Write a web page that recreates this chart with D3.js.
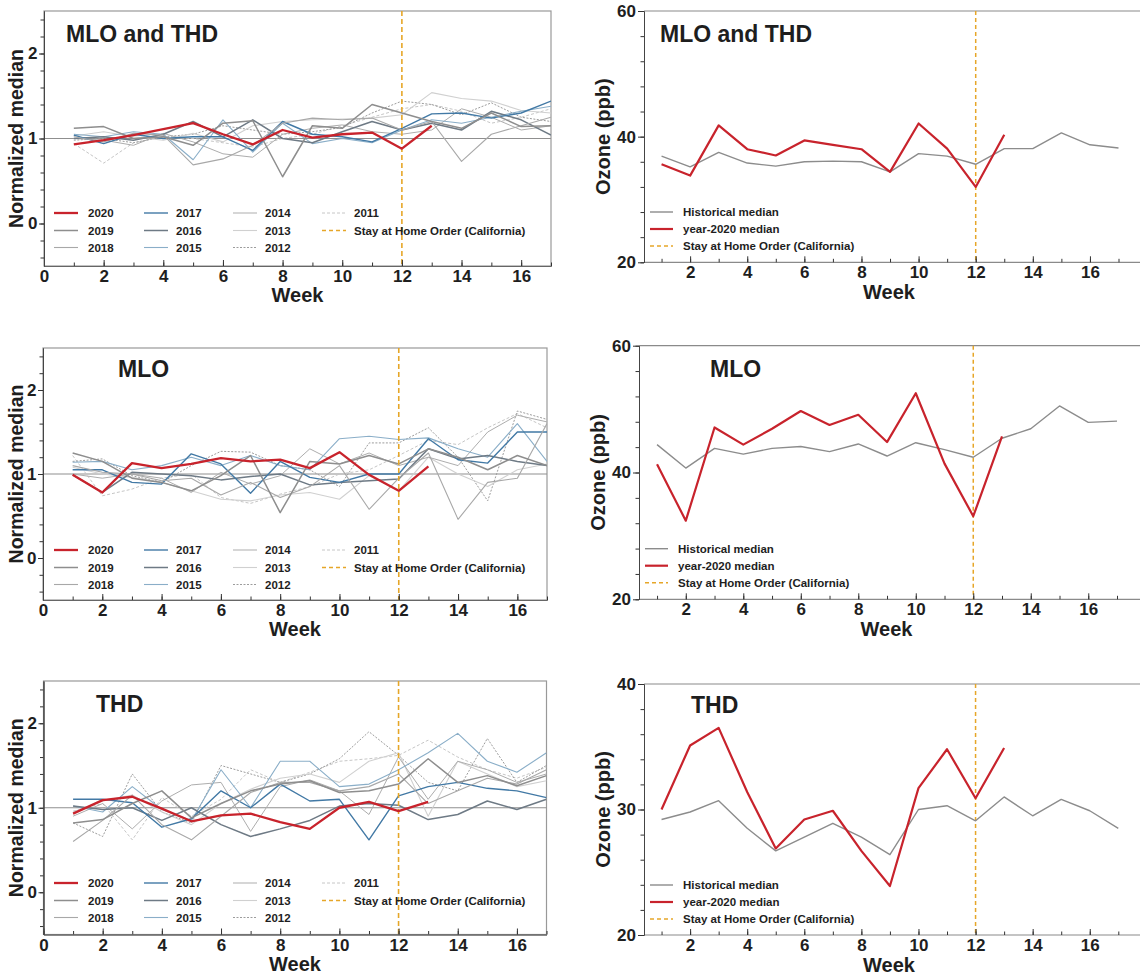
<!DOCTYPE html>
<html><head><meta charset="utf-8">
<script src="https://cdn.jsdelivr.net/npm/d3@7"></script>
<style>
body{margin:0;background:#fff}
text{font-family:"Liberation Sans",Arial,sans-serif;fill:#1e1e1e}
</style>
</head><body>
<svg id="c" width="1140" height="977"></svg>
<script>
// ---------------- DATA ----------------
const weeks = d3.range(1, 18);
const years = ["2020","2019","2018","2017","2016","2015","2014","2013","2012","2011"];
const stayWeek = 12;

// Normalized weekly medians (rows follow `years`; 2020 has 13 weeks)
const normBoth = [
  [0.93,0.98,1.04,1.11,1.18,1.05,0.93,1.10,1.01,1.05,1.07,0.88,1.15],
  [1.12,1.14,1.00,1.02,0.92,1.18,1.21,0.55,1.15,1.12,1.40,1.30,1.20,1.12,1.30,1.14,1.15],
  [1.02,0.96,1.06,1.04,0.69,0.76,0.92,1.18,1.24,1.22,1.24,1.10,1.20,0.73,1.05,1.15,1.25],
  [1.04,0.94,1.05,1.00,1.02,1.02,0.86,1.20,1.05,1.02,0.96,1.12,1.29,1.30,1.24,1.30,1.44],
  [1.00,1.02,0.98,1.05,1.20,1.02,1.22,1.00,0.95,1.08,1.20,1.10,1.18,1.10,1.32,1.22,1.04],
  [1.05,1.02,1.08,1.05,0.75,1.22,0.84,1.18,0.94,1.00,0.95,1.10,1.22,1.18,1.25,1.32,1.38],
  [1.00,0.98,0.92,1.06,0.96,0.82,0.78,1.05,1.12,1.16,1.08,1.05,1.10,1.35,1.25,1.10,1.15],
  [1.03,1.08,1.02,0.98,1.06,0.96,1.15,1.20,1.22,1.23,1.24,1.28,1.54,1.47,1.44,1.33,1.30],
  [0.98,1.00,0.95,1.02,1.05,1.15,1.10,1.05,1.08,1.13,1.30,1.44,1.40,1.28,1.42,1.25,1.20],
  [0.94,0.71,0.95,1.02,1.00,0.95,0.90,1.00,1.05,1.15,1.25,1.35,1.40,1.32,1.18,1.25,1.35]
];
const normMLO = [
  [0.99,0.78,1.13,1.07,1.12,1.19,1.15,1.17,1.07,1.26,0.99,0.80,1.09],
  [1.25,1.15,0.95,0.90,0.80,0.98,1.22,0.54,1.15,1.12,1.22,1.12,1.30,1.20,1.05,1.22,1.10],
  [1.10,1.02,1.00,0.92,0.95,0.75,0.90,0.72,0.85,1.10,0.58,0.95,1.25,0.46,0.90,0.95,1.60],
  [1.05,1.05,0.90,0.88,1.24,1.12,0.77,1.15,0.96,0.90,1.00,1.00,1.42,1.17,1.13,1.50,1.50],
  [0.99,0.78,1.02,1.00,0.98,0.93,0.97,1.00,0.87,0.90,0.92,0.94,1.30,1.18,1.22,1.15,1.10],
  [1.14,1.15,1.05,1.10,1.20,1.10,1.22,1.10,1.05,1.42,1.45,1.41,1.43,1.30,1.20,1.60,1.15],
  [1.00,0.95,1.00,0.95,0.78,1.02,0.88,0.98,1.30,1.12,1.25,1.10,1.20,1.10,1.50,1.70,1.62],
  [1.08,1.00,0.96,0.90,0.80,0.70,0.68,0.75,0.78,0.70,0.98,0.80,1.20,1.00,0.85,1.05,1.12],
  [1.15,1.18,0.98,0.90,1.10,1.27,1.26,1.10,1.05,0.85,1.37,1.37,1.55,1.20,0.68,1.75,1.65],
  [1.22,0.74,0.82,0.95,1.00,0.72,0.65,0.76,0.85,1.00,1.05,1.22,1.40,1.35,1.55,1.72,1.55]
];
const normTHD = [
  [0.93,1.09,1.13,0.99,0.84,0.91,0.93,0.83,0.75,1.00,1.07,0.96,1.07],
  [0.82,0.86,1.05,1.20,0.88,1.05,1.20,1.28,1.32,1.18,1.20,1.28,1.58,1.30,1.38,1.26,1.38],
  [0.60,0.85,1.15,0.80,0.62,0.90,1.18,1.30,1.30,1.20,1.25,1.40,1.05,1.20,1.35,1.28,1.45],
  [1.10,1.10,1.06,0.77,0.87,1.20,1.00,1.28,1.08,1.10,0.62,1.14,1.25,1.30,1.23,1.20,1.12],
  [1.02,0.98,1.00,0.85,1.00,0.80,0.66,0.75,0.85,1.02,1.05,1.03,0.86,0.92,1.08,0.98,1.10],
  [1.02,0.95,1.25,0.98,0.85,1.45,1.00,1.55,1.55,1.25,1.28,1.45,1.65,1.88,1.55,1.42,1.65],
  [0.90,1.05,0.75,1.08,1.27,1.30,0.72,1.25,1.33,1.20,0.92,1.60,1.10,1.55,1.45,1.30,1.40],
  [0.95,1.08,1.15,0.95,0.80,1.05,1.22,1.35,1.40,1.30,1.55,1.65,0.90,1.55,1.40,1.25,1.32],
  [0.82,0.66,1.40,0.95,0.82,1.50,1.40,1.30,1.40,1.58,1.90,1.62,1.30,1.20,1.82,1.30,1.50],
  [0.96,1.05,0.62,1.12,0.90,1.10,1.45,1.30,1.42,1.55,1.58,1.62,1.80,1.60,1.45,1.35,1.48]
];

// Ozone (ppb) weekly medians
const histBoth  = [36.9,35.2,37.5,35.8,35.3,36.0,36.1,36.0,34.4,37.3,36.9,35.6,38.1,38.1,40.6,38.7,38.2];
const y2020Both = [35.6,33.8,41.8,38.0,37.0,39.4,38.7,38.0,34.4,42.1,38.1,32.0,40.3];
const histMLO   = [44.4,40.7,43.8,42.9,43.8,44.1,43.3,44.5,42.6,44.7,43.6,42.4,45.4,46.9,50.5,47.9,48.1];
const y2020MLO  = [41.3,32.4,47.1,44.4,46.9,49.7,47.5,49.1,44.8,52.5,41.4,33.1,45.7];
const histTHD   = [29.2,29.8,30.7,28.5,26.7,27.8,28.9,27.8,26.4,30.0,30.3,29.1,31.0,29.5,30.8,29.9,28.5];
const y2020THD  = [30.0,35.1,36.5,31.4,26.9,29.2,29.9,26.7,23.9,31.7,34.8,30.9,34.9];

const normTicks = [0, 1, 2];
const normMinor = [-0.4,-0.2,0,0.2,0.4,0.6,0.8,1,1.2,1.4,1.6,1.8,2,2.2,2.4];
const weekTicksL = [0,2,4,6,8,10,12,14,16];
const weekTicksR = [2,4,6,8,10,12,14,16];
const weekMinor = d3.range(0, 18);
const ozoneTicks60 = [20, 40, 60];
const ozoneMinor60 = [20,24,28,32,36,40,44,48,52,56,60];
const ozoneTicks40 = [20, 30, 40];
const ozoneMinor40 = [20,22,24,26,28,30,32,34,36,38,40];

// ---------------- STYLE ----------------
const yearStyle = {
  "2020": {c:"#c8232c", w:2.3, d:null},
  "2019": {c:"#8e8e8e", w:1.5, d:null},
  "2018": {c:"#a8a8a8", w:1.1, d:null},
  "2017": {c:"#4279a5", w:1.4, d:null},
  "2016": {c:"#6e7a85", w:1.5, d:null},
  "2015": {c:"#8aaec8", w:1.1, d:null},
  "2014": {c:"#adadad", w:1.0, d:null},
  "2013": {c:"#d0d0d0", w:1.1, d:null},
  "2012": {c:"#9c9c9c", w:1.0, d:"2,1.5"},
  "2011": {c:"#c6c6c6", w:1.0, d:"3,2"}
};
const stayColor = "#e6a628";
const fmtInt = d3.format("d");
const svg = d3.select("#c");

function styleAxis(g, col){
  g.selectAll("path").attr("stroke", col);
  g.selectAll("line").attr("stroke", "#333");
  g.selectAll("text").attr("font-size", 17).attr("font-weight", "bold")
   .attr("font-family", '"Liberation Sans",Arial,sans-serif').attr("fill", "#1e1e1e");
}

function drawLeft(cfg){
  const x = d3.scaleLinear().domain([0,17]).range([cfg.x0, cfg.x1]);
  const y = d3.scaleLinear().domain([-0.5,2.5]).range([cfg.yb, cfg.yt]);
  const g = svg.append("g");
  g.append("rect").attr("x", cfg.x0).attr("y", cfg.yt).attr("width", cfg.x1-cfg.x0)
    .attr("height", cfg.yb-cfg.yt).attr("fill","none").attr("stroke","#999").attr("stroke-width",1.2);
  g.append("line").attr("x1", cfg.x0).attr("x2", cfg.x1).attr("y1", y(1)).attr("y2", y(1))
    .attr("stroke","#8f8f8f").attr("stroke-width",1.1);
  const line = d3.line().x((d,i)=>x(weeks[i])).y(d=>y(d));
  const clip = "clipL" + cfg.id;
  svg.append("clipPath").attr("id", clip).append("rect")
    .attr("x", cfg.x0).attr("y", cfg.yt).attr("width", cfg.x1-cfg.x0).attr("height", cfg.yb-cfg.yt);
  const lg = g.append("g").attr("clip-path", `url(#${clip})`);
  for (let k = years.length-1; k >= 1; k--) {
    const s = yearStyle[years[k]];
    lg.append("path").attr("d", line(cfg.data[k])).attr("fill","none")
      .attr("stroke", s.c).attr("stroke-width", s.w).attr("stroke-dasharray", s.d)
      .attr("stroke-linejoin","round");
  }
  lg.append("line").attr("x1", x(stayWeek)).attr("x2", x(stayWeek)).attr("y1", cfg.yt).attr("y2", cfg.yb)
    .attr("stroke", stayColor).attr("stroke-width",1.6).attr("stroke-dasharray","5,3");
  const s0 = yearStyle["2020"];
  lg.append("path").attr("d", line(cfg.data[0])).attr("fill","none")
    .attr("stroke", s0.c).attr("stroke-width", s0.w).attr("stroke-linejoin","round");

  g.append("g").attr("transform",`translate(0,${cfg.yb})`)
    .call(d3.axisBottom(x).tickValues(weekMinor).tickSize(-3.5).tickSizeOuter(0).tickFormat(""))
    .call(a=>styleAxis(a,"#666"));
  g.append("g").attr("transform",`translate(0,${cfg.yb})`)
    .call(d3.axisBottom(x).tickValues(weekTicksL).tickSize(-6).tickSizeOuter(0).tickPadding(4).tickFormat(fmtInt))
    .call(a=>styleAxis(a,"#666"));
  g.append("g").attr("transform",`translate(${cfg.x0},0)`)
    .call(d3.axisLeft(y).tickValues(normMinor).tickSize(3.5).tickSizeOuter(0).tickFormat(""))
    .call(a=>styleAxis(a,"#444"));
  g.append("g").attr("transform",`translate(${cfg.x0},0)`)
    .call(d3.axisLeft(y).tickValues(normTicks).tickSize(5).tickSizeOuter(0).tickPadding(1.5).tickFormat(fmtInt))
    .call(a=>styleAxis(a,"#444"));

  g.append("text").attr("x", (cfg.x0+cfg.x1)/2).attr("y", cfg.yb+36).attr("text-anchor","middle")
    .attr("font-size",20).attr("font-weight","bold").text("Week");
  g.append("text").attr("transform",`translate(23,${(cfg.yt+cfg.yb)/2}) rotate(-90)`)
    .attr("text-anchor","middle").attr("font-size",19.5).attr("font-weight","bold").text("Normalized median");
  g.append("text").attr("x", cfg.tx).attr("y", cfg.ty).attr("font-size",23).attr("font-weight","bold")
    .text(cfg.title);

  const cols = [[54,88],[144,176],[233,265],[322,354]];
  const rows = [cfg.yt+202, cfg.yt+219.5, cfg.yt+236.5];
  const items = years.map(yr=>({label:yr, s:yearStyle[yr]}))
    .concat([{label:"Stay at Home Order (California)", s:{c:stayColor,w:1.6,d:"4,3"}}]);
  items.forEach((it,i)=>{
    const c = cols[Math.floor(i/3)], r = rows[i%3];
    g.append("line").attr("x1", c[0]).attr("x2", c[0]+24).attr("y1", r).attr("y2", r)
      .attr("stroke", it.s.c).attr("stroke-width", it.s.w).attr("stroke-dasharray", it.s.d);
    g.append("text").attr("x", c[1]).attr("y", r+4).attr("font-size",11.5).attr("font-weight","bold")
      .attr("fill","#333").text(it.label);
  });
}

function drawRight(cfg){
  const x = d3.scaleLinear().domain([0,17]).range([cfg.x0, cfg.x17]);
  const y = d3.scaleLinear().domain(cfg.dom).range([cfg.yb, cfg.yt]);
  const g = svg.append("g");
  g.append("line").attr("x1", cfg.ax).attr("x2", 1140).attr("y1", cfg.yt).attr("y2", cfg.yt)
    .attr("stroke","#8a8a8a").attr("stroke-width",1.2);
  g.append("line").attr("x1", cfg.ax).attr("x2", 1140).attr("y1", cfg.yb).attr("y2", cfg.yb)
    .attr("stroke","#8a8a8a").attr("stroke-width",1.2);
  g.append("line").attr("x1", x(stayWeek)).attr("x2", x(stayWeek)).attr("y1", cfg.yt).attr("y2", cfg.yb)
    .attr("stroke", stayColor).attr("stroke-width",1.5).attr("stroke-dasharray","4,3");
  const line = d3.line().x((d,i)=>x(weeks[i])).y(d=>y(d));
  g.append("path").attr("d", line(cfg.hist)).attr("fill","none").attr("stroke","#8c8c8c")
    .attr("stroke-width",1.4).attr("stroke-linejoin","round");
  g.append("path").attr("d", line(cfg.cur)).attr("fill","none").attr("stroke","#c8232c")
    .attr("stroke-width",2.2).attr("stroke-linejoin","round");

  const xa1 = g.append("g").attr("transform",`translate(0,${cfg.yb})`)
    .call(d3.axisBottom(x).tickValues(weekMinor.filter(v=>v>=1)).tickSize(-3.5).tickFormat(""))
    .call(a=>styleAxis(a,"#8a8a8a"));
  xa1.select(".domain").remove();
  const xa2 = g.append("g").attr("transform",`translate(0,${cfg.yb})`)
    .call(d3.axisBottom(x).tickValues(weekTicksR).tickSize(-6).tickPadding(3.5).tickFormat(fmtInt))
    .call(a=>styleAxis(a,"#8a8a8a"));
  xa2.select(".domain").remove();
  g.append("g").attr("transform",`translate(${cfg.ax},0)`)
    .call(d3.axisLeft(y).tickValues(cfg.minor).tickSize(3.5).tickSizeOuter(0).tickFormat(""))
    .call(a=>styleAxis(a,"#444"));
  g.append("g").attr("transform",`translate(${cfg.ax},0)`)
    .call(d3.axisLeft(y).tickValues(cfg.major).tickSize(6).tickSizeOuter(0).tickPadding(2).tickFormat(fmtInt))
    .call(a=>styleAxis(a,"#444"));

  g.append("text").attr("x", (cfg.ax+1140)/2 - 3).attr("y", cfg.yb+37).attr("text-anchor","middle")
    .attr("font-size",20).attr("font-weight","bold").text("Week");
  g.append("text").attr("transform",`translate(${cfg.lx},${(cfg.yt+cfg.yb)/2}) rotate(-90)`)
    .attr("text-anchor","middle").attr("font-size",20).attr("font-weight","bold").text("Ozone (ppb)");
  g.append("text").attr("x", cfg.tx).attr("y", cfg.ty).attr("font-size",23).attr("font-weight","bold")
    .text(cfg.title);

  const items = [
    {label:"Historical median", c:"#8c8c8c", w:1.4, d:null},
    {label:"year-2020 median", c:"#c8232c", w:2.2, d:null},
    {label:"Stay at Home Order (California)", c:stayColor, w:1.5, d:"4,3"}
  ];
  items.forEach((it,i)=>{
    const r = cfg.yt + cfg.lg + i*17;
    g.append("line").attr("x1", cfg.ax+6).attr("x2", cfg.ax+29).attr("y1", r).attr("y2", r)
      .attr("stroke", it.c).attr("stroke-width", it.w).attr("stroke-dasharray", it.d);
    g.append("text").attr("x", cfg.ax+39).attr("y", r+4).attr("font-size",11.5).attr("font-weight","bold")
      .attr("fill","#333").text(it.label);
  });
}

drawLeft({id:1, x0:44, x1:551, yt:11, yb:266, data:normBoth, title:"MLO and THD", tx:66, ty:42});
drawLeft({id:2, x0:43, x1:547, yt:348, yb:600, data:normMLO, title:"MLO", tx:118, ty:377});
drawLeft({id:3, x0:43.5, x1:546.5, yt:681, yb:934.5, data:normTHD, title:"THD", tx:96, ty:712});

drawRight({x0:633, x17:1118.5, ax:644, yt:11, yb:262.3, dom:[20,60], major:ozoneTicks60, minor:ozoneMinor60,
  hist:histBoth, cur:y2020Both, title:"MLO and THD", tx:660, ty:42, lx:610, lg:201});
drawRight({x0:628.3, x17:1117, ax:639, yt:345.7, yb:599.3, dom:[20,60], major:ozoneTicks60, minor:ozoneMinor60,
  hist:histMLO, cur:y2020MLO, title:"MLO", tx:710, ty:377, lx:605, lg:203});
drawRight({x0:633, x17:1118.3, ax:644, yt:684, yb:935, dom:[20,40], major:ozoneTicks40, minor:ozoneMinor40,
  hist:histTHD, cur:y2020THD, title:"THD", tx:691, ty:713, lx:610, lg:201});
</script>
</body></html>
